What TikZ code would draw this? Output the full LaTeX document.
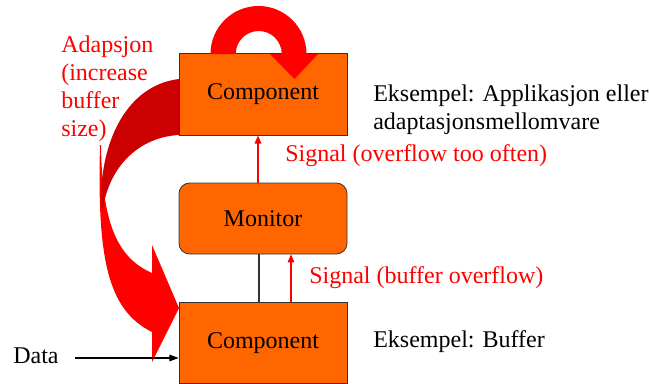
\documentclass[tikz,border=0pt]{standalone}
\usepackage{fontspec}
\setmainfont{Liberation Serif}
\usetikzlibrary{arrows.meta}
\definecolor{boxorange}{HTML}{FF6600}
\definecolor{backred}{HTML}{CC0000}

\begin{document}
\begin{tikzpicture}
   [x=0.75pt, y=-0.75pt,
   compbox/.style={rectangle, draw=black!80, fill=boxorange, line width=0.6pt, minimum width=126pt, minimum height=61pt},
   monbox/.style={rectangle, rounded corners=8pt, draw=black!80, fill=boxorange, line width=0.6pt, minimum width=126pt, minimum height=53.25pt},
   plaintext/.style={font=\fontsize{18}{21}\selectfont, inner sep=0pt, align=left},
   redtext/.style={plaintext, text=red},
   sigarrow/.style={draw=red, line width=0.8pt, -{Triangle[length=6pt,width=5pt]}},
   ]
 \useasboundingbox (0,0) rectangle (649,383);
 % adaptation arrow: front face, then back face
 \fill[red] (100,145) .. controls (97,260) and (108,310) .. (152,332) -- (152,362) -- (179,308) -- (152,245) -- (152,273) .. controls (118,258) and (102,225) .. (101,145) -- cycle;
 \fill[backred] (179,79) .. controls (128,85) and (99,140) .. (101,208) -- (103,208) .. controls (110,165) and (140,137) .. (179,135) -- cycle;

 \node at (263,94.5) [compbox] (comp1) {\fontsize{18}{21}\selectfont Component};
 \node at (263,218.5) [monbox] (monitor) {\fontsize{18}{21}\selectfont Monitor};
 \node at (263,343) [compbox] (comp2) {\fontsize{18}{21}\selectfont Component};

 % loop arrow on top
 \fill[red] (210.5,54) arc[start angle=180, end angle=0, radius=36pt] -- (318,54) -- (294.5,79) -- (270,54) -- (281.75,54) arc[start angle=0, end angle=180, radius=17.25pt] -- cycle;

 \draw[black!80, line width=0.8pt] ([xshift=-3pt]monitor.south) -- ([xshift=-3pt]comp2.north);
 \draw[sigarrow] ([xshift=21pt]comp2.north) -- ([xshift=21pt]monitor.south);
 \draw[sigarrow] ([xshift=-3.75pt]monitor.north) -- ([xshift=-3.75pt]comp1.south);

 \node at (61,136) [redtext, anchor=base west] (adapt) {Adapsjon\\(increase\\buffer\\size)};
 \node at (285,161) [redtext, anchor=base west] (sig1) {Signal (overflow too often)};
 \node at (309,283) [redtext, anchor=base west] (sig2) {Signal (buffer overflow)};
 \node at (373,129) [plaintext, anchor=base west] (ex1) {Eksempel: Applikasjon eller\\adaptasjonsmellomvare};
 \node at (373,347) [plaintext, anchor=base west] (ex2) {Eksempel: Buffer};
 \node at (13,363) [plaintext, anchor=base west] (data) {Data};
 \coordinate (datain) at (75,358);
 \draw[line width=0.8pt, -{Triangle[length=7pt,width=5pt]}] (datain) -- (datain -| comp2.west);
\end{tikzpicture}
\end{document}
